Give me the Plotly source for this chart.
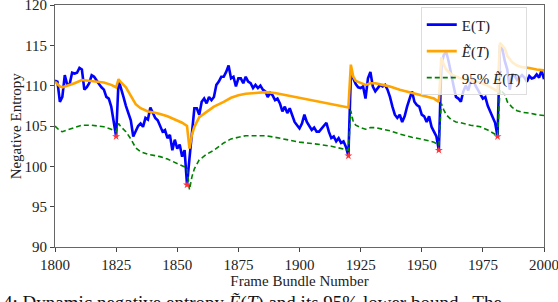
import plotly.graph_objects as go

# ---- data ----
frames = list(range(1800, 2001))
entropy = [
    110.6, 110.5, 108.0, 108.6, 111.3, 110.1, 110.2, 111.6, 111.5, 111.6,  # 1800-1809
    112.2, 112.0, 109.5, 109.8, 110.3, 111.3, 111.1, 110.6, 110.2, 109.8,  # 1810-1819
    109.5, 108.6, 108.4, 107.4, 105.7, 103.7, 110.7, 109.5, 108.6, 107.5,  # 1820-1829
    106.6, 105.7, 103.7, 104.3, 105.0, 105.3, 104.9, 106.0, 105.8, 107.3,  # 1830-1839
    106.6, 106.0, 105.7, 105.1, 104.3, 104.5, 103.5, 103.9, 102.0, 103.3,  # 1840-1849
    102.2, 102.7, 101.2, 102.0, 97.7, 101.0, 104.5, 107.2, 107.2, 106.4,   # 1850-1859
    108.0, 108.4, 107.8, 108.6, 108.2, 108.6, 110.1, 110.5, 111.1, 111.1,  # 1860-1869
    111.7, 112.5, 110.9, 111.1, 109.9, 110.9, 110.9, 110.3, 111.1, 110.5,  # 1870-1879
    110.3, 109.7, 110.1, 109.7, 110.0, 109.5, 109.3, 108.6, 109.1, 108.8,  # 1880-1889
    108.2, 108.4, 107.8, 106.8, 107.4, 106.6, 107.2, 106.2, 105.5, 105.1,  # 1890-1899
    104.7, 105.3, 106.4, 105.5, 104.9, 104.5, 104.8, 104.3, 104.3, 104.7,  # 1900-1909
    105.1, 105.4, 104.3, 103.5, 103.7, 103.1, 103.5, 102.9, 103.1, 102.4,  # 1910-1919
    101.3, 111.3, 110.9, 110.2, 109.8, 109.7, 109.9, 108.4, 110.9, 111.7,  # 1920-1929
    109.9, 109.3, 109.7, 110.1, 109.9, 110.1, 109.5, 108.6, 107.4, 106.4,  # 1930-1939
    106.0, 106.4, 105.5, 106.2, 107.4, 108.4, 109.3, 108.0, 107.6, 107.4,  # 1940-1949
    106.4, 106.2, 105.5, 106.2, 104.9, 104.3, 103.7, 102.0, 112.5, 113.8,  # 1950-1959
    114.2, 113.0, 111.3, 110.0, 108.6, 108.4, 108.0, 109.3, 110.0, 109.4,  # 1960-1969
    110.5, 110.9, 110.0, 109.5, 108.9, 108.4, 108.6, 107.5, 106.8, 106.2,  # 1970-1979
    105.4, 103.7, 115.0, 114.5, 113.0, 112.0, 109.5, 111.5, 111.2, 110.7,  # 1980-1989
    111.0, 111.3, 111.0, 110.5, 111.2, 110.9, 111.0, 111.4, 111.0, 111.9,  # 1990-1999
    110.8,                                                                  # 2000
]

smooth_frames = [1800, 1802, 1803, 1805, 1808, 1811, 1815, 1820, 1823, 1825,
                 1826, 1827, 1829, 1831, 1833, 1835, 1838, 1840, 1843, 1846,
                 1849, 1852, 1854, 1855, 1856, 1857, 1859, 1862, 1865, 1869,
                 1872, 1875, 1878, 1882, 1886, 1890, 1895, 1900, 1906, 1913,
                 1920, 1921, 1922, 1923, 1925, 1927, 1929, 1931, 1934, 1937,
                 1941, 1946, 1951, 1955, 1957, 1958, 1959, 1960, 1962, 1964,
                 1966, 1970, 1974, 1977, 1981, 1982, 1984, 1985, 1987, 1989,
                 1991, 1994, 1997, 2000]
smooth_entropy = [110.5, 109.9, 109.8, 110.0, 110.3, 110.7, 110.6, 110.4, 110.1, 109.8,
                  110.8, 110.4, 109.8, 108.8, 107.7, 107.2, 106.8, 106.7, 106.5, 106.2,
                  105.8, 105.4, 105.0, 102.2, 103.9, 104.9, 106.1, 106.8, 107.4, 108.0,
                  108.5, 108.8, 109.0, 109.1, 109.2, 109.1, 108.8, 108.5, 108.1, 107.7,
                  107.3, 112.6, 111.1, 110.6, 110.3, 110.1, 110.3, 110.3, 110.1, 109.9,
                  109.5, 109.1, 108.7, 108.4, 108.0, 113.5, 112.6, 112.0, 111.4, 111.1,
                  110.9, 110.6, 110.4, 110.0, 109.3, 115.3, 114.6, 113.7, 112.9, 112.5,
                  112.3, 112.2, 112.0, 111.9]
bound_entropy = [105.0, 104.4, 104.3, 104.5, 104.8, 105.1, 105.1, 104.9, 104.6, 104.3,
                 105.3, 104.9, 104.3, 103.4, 102.3, 101.8, 101.5, 101.4, 101.2, 100.9,
                 100.5, 100.1, 99.8, 97.1, 98.7, 99.7, 100.8, 101.5, 102.0, 102.9,
                 103.4, 103.6, 103.8, 103.8, 103.8, 103.6, 103.3, 103.0, 102.8, 102.5,
                 102.0, 106.9, 105.5, 105.1, 104.8, 104.6, 104.8, 104.8, 104.6, 104.4,
                 104.0, 103.6, 103.3, 103.0, 102.6, 107.8, 107.0, 106.4, 105.8, 105.5,
                 105.4, 105.1, 104.9, 104.5, 103.8, 109.5, 108.9, 108.0, 107.3, 106.9,
                 106.7, 106.6, 106.4, 106.3]

event_frames = [1825, 1854, 1920, 1957, 1981]
event_values = [103.7, 97.7, 101.3, 102.0, 103.7]

x_ticks = [1800, 1825, 1850, 1875, 1900, 1925, 1950, 1975, 2000]
y_ticks = [90, 95, 100, 105, 110, 115, 120]

FONT = "Liberation Serif"

fig = go.Figure()
fig.add_trace(go.Scatter(x=frames, y=entropy, mode="lines", name="E(T)",
                         legendgroup="a",
                         line=dict(color="#0000ff", width=2.6)))
fig.add_trace(go.Scatter(x=smooth_frames, y=smooth_entropy, mode="lines",
                         name="<i>Ẽ</i>(<i>T</i>)", legendgroup="b",
                         line=dict(color="#ffa500", width=2.6)))
fig.add_trace(go.Scatter(x=smooth_frames, y=bound_entropy, mode="lines",
                         name="95% <i>Ẽ</i>(<i>T</i>)", legendgroup="c",
                         line=dict(color="#008000", width=1.6, dash="5px,3px")))
fig.add_trace(go.Scatter(x=event_frames, y=event_values, mode="markers",
                         showlegend=False,
                         marker=dict(symbol="star", size=6, color="#ff3333",
                                     line=dict(width=0))))

fig.update_layout(
    width=558, height=302,
    margin=dict(l=55, r=14, t=5, b=55, autoexpand=False),
    paper_bgcolor="white", plot_bgcolor="white",
    font=dict(family=FONT, size=15, color="#222"),
    showlegend=True,
    legend=dict(x=0.748, y=0.99, xanchor="left", yanchor="top",
                bgcolor="rgba(255,255,255,0.8)", bordercolor="#dddddd",
                borderwidth=1, font=dict(family=FONT, size=15, color="#222"),
                traceorder="grouped", tracegroupgap=4, itemwidth=30),
)
fig.update_xaxes(range=[1800, 2000], tickvals=x_ticks,
                 ticktext=[str(v) for v in x_ticks], automargin=False,
                 ticklabeloverflow="allow",
                 showgrid=False, zeroline=False, showline=True, mirror=True,
                 linecolor="#666", linewidth=1.2, ticks="outside", ticklen=4,
                 tickcolor="#444",
                 title=dict(text="Frame Bundle Number", standoff=2,
                            font=dict(family=FONT, size=15)))
fig.update_yaxes(range=[90, 120], tickvals=y_ticks,
                 ticktext=[str(v) for v in y_ticks], automargin=False,
                 ticklabeloverflow="allow",
                 showgrid=False, zeroline=False, showline=True, mirror=True,
                 linecolor="#666", linewidth=1.2, ticks="outside", ticklen=4,
                 tickcolor="#444")

# y-axis title placed as in the reference
fig.add_annotation(text="Negative Entropy", textangle=-90,
                   xref="paper", yref="paper", x=-0.079, y=0.5,
                   xanchor="center", yanchor="middle", showarrow=False,
                   font=dict(family=FONT, size=15, color="#222"))

# cropped caption of the source figure (only its top part is visible)
fig.add_annotation(text="4: Dynamic negative entropy <i>Ẽ</i>(<i>T</i>) and its 95% lower bound.  The",
                   xref="paper", yref="paper", x=-0.11, y=-0.176,
                   xanchor="left", yanchor="top", showarrow=False,
                   font=dict(family=FONT, size=19, color="#111"))

fig.write_html("out.html", config={"displayModeBar": False},
               post_script="document.body.style.margin='0';document.body.style.padding='0';")
